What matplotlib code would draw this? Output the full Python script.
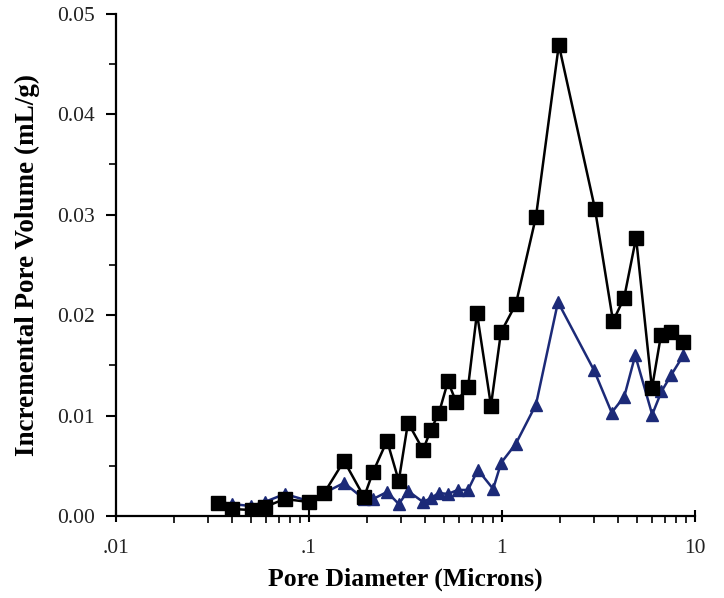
import matplotlib
matplotlib.use("Agg")
import matplotlib.pyplot as plt
from matplotlib.ticker import FixedLocator, LogLocator, NullFormatter, MultipleLocator

# Series 1: black squares
sq_x = [0.034, 0.040, 0.051, 0.059, 0.075, 0.100, 0.120, 0.152, 0.193, 0.215,
        0.254, 0.292, 0.326, 0.390, 0.429, 0.472, 0.525, 0.578, 0.667, 0.742,
        0.877, 0.988, 1.18, 1.50, 1.97, 3.03, 3.76, 4.29, 4.95, 5.98,
        6.66, 7.51, 8.67]
sq_y = [0.0013, 0.0007, 0.0006, 0.0009, 0.0017, 0.0014, 0.0023, 0.0055, 0.0019, 0.0044,
        0.0075, 0.0035, 0.0093, 0.0066, 0.0086, 0.0103, 0.0134, 0.0114, 0.0128, 0.0202,
        0.0110, 0.0183, 0.0211, 0.0298, 0.0469, 0.0306, 0.0194, 0.0217, 0.0277, 0.0127,
        0.0180, 0.0183, 0.0173]

# Series 2: navy triangles
tri_x = [0.034, 0.040, 0.050, 0.059, 0.075, 0.100, 0.120, 0.152, 0.193, 0.215,
         0.254, 0.292, 0.326, 0.390, 0.430, 0.470, 0.525, 0.590, 0.667, 0.750,
         0.900, 0.990, 1.18, 1.50, 1.95, 3.00, 3.70, 4.30, 4.90, 6.00,
         6.70, 7.50, 8.70]
tri_y = [0.0014, 0.0012, 0.0010, 0.0014, 0.0022, 0.0015, 0.0023, 0.0033, 0.0017, 0.0017,
         0.0024, 0.0012, 0.0025, 0.0014, 0.0018, 0.0023, 0.0022, 0.0026, 0.0026, 0.0046,
         0.0027, 0.0053, 0.0072, 0.0111, 0.0213, 0.0145, 0.0103, 0.0119, 0.0160, 0.0101,
         0.0124, 0.0140, 0.0160]

x_ticks = [0.01, 0.1, 1, 10]
x_ticklabels = [".01", ".1", "1", "10"]
y_ticks = [0.00, 0.01, 0.02, 0.03, 0.04, 0.05]
y_ticklabels = ["0.00", "0.01", "0.02", "0.03", "0.04", "0.05"]

font = "Liberation Serif"
navy = "#1c2a78"

fig = plt.figure(figsize=(7.24, 5.98), dpi=100)
ax = fig.add_axes([0.160, 0.137, 0.800, 0.840])

ax.plot(tri_x, tri_y, color=navy, lw=1.8, marker="^", markersize=9,
        markerfacecolor=navy, markeredgecolor=navy, zorder=2)
ax.plot(sq_x, sq_y, color="black", lw=1.8, marker="s", markersize=10,
        markerfacecolor="black", markeredgecolor="black", zorder=3)

ax.set_xscale("log")
ax.set_xlim(0.01, 10)
ax.set_ylim(0, 0.05)

ax.xaxis.set_major_locator(FixedLocator(x_ticks))
ax.set_xticklabels(x_ticklabels)
ax.xaxis.set_minor_locator(LogLocator(base=10, subs=range(2, 10)))
ax.xaxis.set_minor_formatter(NullFormatter())

ax.yaxis.set_major_locator(FixedLocator(y_ticks))
ax.set_yticklabels(y_ticklabels)
ax.yaxis.set_minor_locator(MultipleLocator(0.005))

for s in ["top", "right"]:
    ax.spines[s].set_visible(False)
for s in ["left", "bottom"]:
    ax.spines[s].set_linewidth(1.6)

ax.tick_params(axis="x", which="major", direction="inout", length=9, width=1.5, pad=12)
ax.tick_params(axis="y", which="major", direction="out", length=7, width=1.5, pad=8)
ax.tick_params(which="minor", direction="out", length=5, width=1.2)

for lab in ax.get_xticklabels() + ax.get_yticklabels():
    lab.set_fontfamily(font)
    lab.set_fontsize(15.5)
    lab.set_color("#222222")

ax.set_xlabel("Pore Diameter (Microns)", fontfamily=font, fontweight="bold",
              fontsize=18.5, va="center")
ax.xaxis.set_label_coords(0.5, -0.126)
ax.set_ylabel("Incremental Pore Volume (mL/g)", fontfamily=font, fontweight="bold",
              fontsize=19.5, va="center")
ax.yaxis.set_label_coords(-0.152, 0.5)

fig.savefig("out.png", dpi=100, facecolor="white")
